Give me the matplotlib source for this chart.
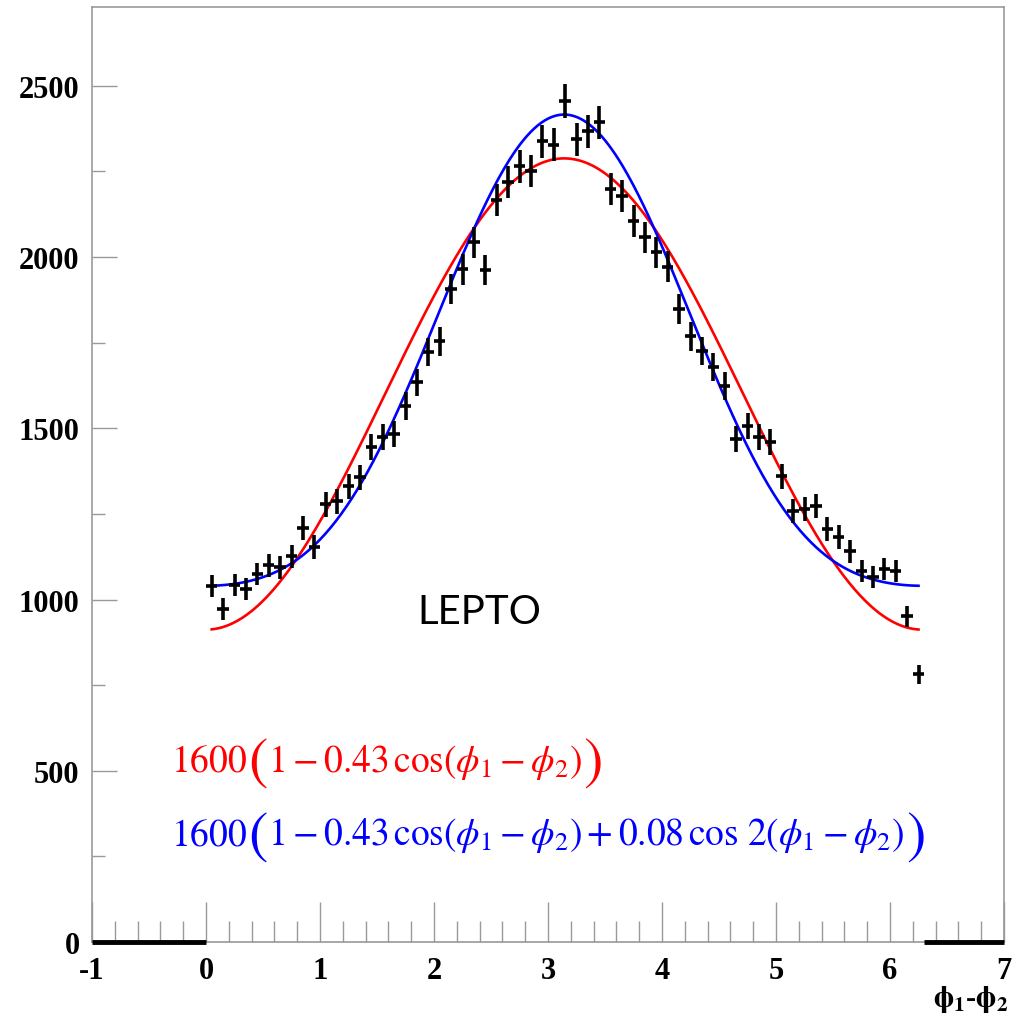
import numpy as np
import matplotlib
matplotlib.use("Agg")
import matplotlib.pyplot as plt
from matplotlib.ticker import MultipleLocator
from matplotlib.transforms import IdentityTransform

plt.rcParams['mathtext.fontset'] = 'stix'
plt.rcParams['axes.unicode_minus'] = False

# ---- data ----
bin_width = 0.1
hist_range = [0.0, 6.3]
counts = [1040, 972, 1043, 1030, 1074, 1100, 1094, 1127, 1208, 1153,
          1278, 1287, 1331, 1357, 1445, 1474, 1483, 1565, 1634, 1722,
          1754, 1906, 1964, 2043, 1962, 2166, 2218, 2265, 2251, 2338,
          2328, 2455, 2344, 2367, 2393, 2198, 2178, 2105, 2058, 2014,
          1972, 1848, 1769, 1725, 1678, 1623, 1468, 1506, 1474, 1460,
          1360, 1258, 1264, 1273, 1206, 1182, 1141, 1083, 1065, 1089,
          1083, 951, 782]
# fit parameters quoted in the figure
norm = 1600
a1 = 0.43
a2 = 0.08
xlim = [-1, 7]
ylim = [0, 2730]
x_ticks = [-1, 0, 1, 2, 3, 4, 5, 6, 7]
y_ticks = [0, 500, 1000, 1500, 2000, 2500]

counts = np.array(counts, dtype=float)
centers = hist_range[0] + bin_width * (np.arange(len(counts)) + 0.5)
yerr = np.sqrt(counts)

fig = plt.figure(figsize=(10.15, 10.2), dpi=100)
ax = fig.add_axes([92/1015, 77/1020, 912/1015, 935/1020])

xs = np.linspace(centers[0], centers[-1], 400)
red = norm * (1 - a1 * np.cos(xs))
blue = norm * (1 - a1 * np.cos(xs) + a2 * np.cos(2 * xs))
ax.plot(xs, red, color='#ff0000', lw=1.9, zorder=2)
ax.plot(xs, blue, color='#0000ff', lw=1.9, zorder=2)

ax.errorbar(centers, counts, yerr=yerr, xerr=bin_width/2, fmt='none',
            ecolor='black', elinewidth=2.6, capsize=0, zorder=3)

# empty histogram region outside range
ax.hlines(0, xlim[0], hist_range[0], color='black', lw=3.5, zorder=4, clip_on=False)
ax.hlines(0, hist_range[1], xlim[1], color='black', lw=3.5, zorder=4, clip_on=False)

ax.set_xlim(xlim)
ax.set_ylim(ylim)
ax.set_xticks(x_ticks)
ax.set_yticks(y_ticks)
ax.xaxis.set_minor_locator(MultipleLocator(0.2))
ax.yaxis.set_minor_locator(MultipleLocator(250))

for s in ax.spines.values():
    s.set_color('#999999')
    s.set_linewidth(1.2)

ax.tick_params(axis='x', which='major', direction='in', length=29, width=1, color='#999999', pad=10)
ax.tick_params(axis='x', which='minor', direction='in', length=15, width=1, color='#999999')
ax.tick_params(axis='y', which='major', direction='in', length=18, width=1, color='#999999', pad=9)
ax.tick_params(axis='y', which='minor', direction='in', length=9, width=1, color='#999999')
ax.tick_params(top=False, right=False)

for lab in ax.get_xticklabels() + ax.get_yticklabels():
    lab.set_fontfamily('Liberation Serif')
    lab.set_fontweight('bold')
    lab.set_fontsize(22)

ax.text(0.963, -0.06, r'$\mathbf{\phi_1}$-$\mathbf{\phi_2}$', transform=ax.transAxes,
        ha='center', va='center', fontsize=22, family='Liberation Serif', fontweight='bold')

ax.text(2.4, 965, 'LEPTO', fontsize=29, family='Lato', ha='center', va='center', color='black')


def place_pieces(x0, y0, pieces, color):
    """Place consecutive text pieces on one baseline, starting at data (x0, y0)."""
    renderer = fig.canvas.get_renderer()
    px, py = ax.transData.transform((x0, y0))
    for txt, size, dy in pieces:
        t = fig.text(px, py + dy, txt, transform=IdentityTransform(), fontsize=size,
                     color=color, ha='left', va='baseline')
        bb = t.get_window_extent(renderer=renderer)
        px = bb.x1 + 1


small = 27
big = 42
drop = -6
place_pieces(-0.31, 500, [
    (r'$1600$', small, 0),
    (r'$($', big, drop),
    (r'$1-0.43\,\cos(\phi_1-\phi_2)$', small, 0),
    (r'$)$', big, drop),
], '#ff0000')
place_pieces(-0.31, 285, [
    (r'$1600$', small, 0),
    (r'$($', big, drop),
    (r'$1-0.43\,\cos(\phi_1-\phi_2)+0.08\,\cos\,2(\phi_1-\phi_2)$', small, 0),
    (r'$)$', big, drop),
], '#0000ff')

fig.savefig('out.png', dpi=100, facecolor='white')
